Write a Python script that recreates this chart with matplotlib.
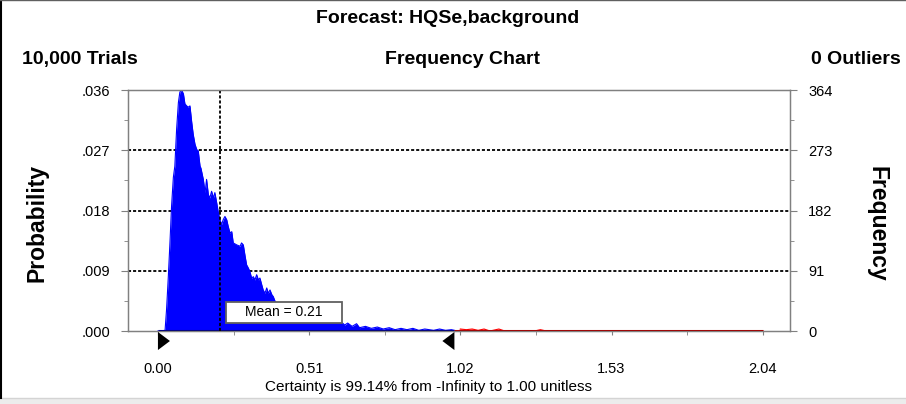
# Crystal Ball style forecast frequency chart

import matplotlib
matplotlib.use("Agg")
import numpy as np
import matplotlib.pyplot as plt
import matplotlib.transforms as mtransforms
from matplotlib.patches import Polygon, Rectangle
from matplotlib.lines import Line2D

plt.rcParams['font.family'] = ['Liberation Sans', 'DejaVu Sans']

# forecast summary
trials = 10000
outliers = 0
mean_value = 0.21
cert_lo, cert_hi = 0.00, 1.00
certainty = 99.14

# axis ticks
x_ticks = [0.00, 0.51, 1.02, 1.53, 2.04]
p_ticks = [0.0, 0.0091, 0.0182, 0.0273, 0.0364]
p_labels = ['.000', '.009', '.018', '.027', '.036']
freq_ticks = [0, 91, 182, 273, 364]

# outline of the frequency area (value, probability)
edge_x = [0.000, 0.007, 0.024, 0.029, 0.035, 0.041, 0.046, 0.052, 0.057, 0.063,
          0.069, 0.074, 0.080, 0.086, 0.091, 0.097, 0.102, 0.108, 0.114, 0.119,
          0.125, 0.131, 0.136, 0.142, 0.145, 0.153, 0.159, 0.164, 0.170, 0.175,
          0.181, 0.187, 0.192, 0.198, 0.204, 0.209, 0.215, 0.220, 0.226, 0.232,
          0.237, 0.243, 0.249, 0.254, 0.266, 0.277, 0.282, 0.288, 0.294, 0.299,
          0.305, 0.310, 0.316, 0.322, 0.327, 0.333, 0.339, 0.344, 0.350, 0.355,
          0.361, 0.367, 0.372, 0.378, 0.384, 0.389, 0.395, 0.400, 0.430, 0.450,
          0.480, 0.500, 0.530, 0.560, 0.590, 0.620, 0.630, 0.640, 0.655, 0.670,
          0.680, 0.700, 0.720, 0.740, 0.760, 0.780, 0.800, 0.820, 0.840, 0.860,
          0.880, 0.900, 0.930, 0.950, 0.970, 0.990, 1.000, 1.020, 1.040, 1.060,
          1.080, 1.100, 1.120, 1.150, 1.170, 1.270, 1.290, 1.310, 2.040]
edge_p = [0.0000, 0.0000, 0.0001, 0.0032, 0.0082, 0.0138, 0.0189, 0.0232, 0.0249, 0.0305,
          0.0345, 0.0361, 0.0364, 0.0358, 0.0343, 0.0340, 0.0338, 0.0340, 0.0315, 0.0297,
          0.0282, 0.0274, 0.0272, 0.0249, 0.0246, 0.0229, 0.0209, 0.0229, 0.0206, 0.0201,
          0.0211, 0.0201, 0.0209, 0.0194, 0.0178, 0.0168, 0.0161, 0.0168, 0.0173, 0.0168,
          0.0158, 0.0148, 0.0150, 0.0133, 0.0130, 0.0128, 0.0133, 0.0130, 0.0113, 0.0100,
          0.0095, 0.0090, 0.0080, 0.0082, 0.0077, 0.0085, 0.0077, 0.0080, 0.0070, 0.0062,
          0.0057, 0.0065, 0.0057, 0.0062, 0.0055, 0.0052, 0.0045, 0.0042, 0.0036, 0.0031,
          0.0027, 0.0023, 0.0019, 0.0016, 0.0013, 0.0013, 0.0009, 0.0012, 0.0007, 0.0011,
          0.0005, 0.0007, 0.0004, 0.0006, 0.0003, 0.0005, 0.0002, 0.0004, 0.0002, 0.0004,
          0.0001, 0.0003, 0.0001, 0.0003, 0.0001, 0.0002, 0.0001, 0.0003, 0.0002, 0.0003,
          0.0001, 0.0003, 0.0000, 0.0003, 0.0000, 0.0000, 0.0002, 0.0000, 0.0000]

edge_x = np.array(edge_x)
edge_p = np.array(edge_p)

fig = plt.figure(figsize=(9.06, 4.04), dpi=100)
ax = fig.add_axes([0.14128, 0.18069, 0.73068, 0.59653])
ax.set_xlim(-0.101, 2.132)
ax.set_ylim(p_ticks[0], p_ticks[-1])

# dotted grid behind the area
for p in p_ticks[1:-1]:
    ax.axhline(p, color='black', lw=1.3, ls=(0, (1.7, 1.1)), zorder=1)

inside = edge_x <= cert_hi
ax.fill_between(edge_x, edge_p, where=inside, color='#0000ff', lw=0, zorder=2)
ax.fill_between(edge_x, edge_p, where=edge_x >= cert_hi, color='#ff0000', lw=0, zorder=2)
ax.plot(edge_x[inside], edge_p[inside], color='#0000ff', lw=0.8, zorder=2)
ax.plot(edge_x[~inside], edge_p[~inside], color='#ff0000', lw=0.8, zorder=2)
ax.plot([cert_lo, cert_hi], [0, 0], color='#000080', lw=2.2, zorder=3, solid_capstyle='butt')
ax.plot([cert_hi, x_ticks[-1]], [0, 0], color='#a00000', lw=2.2, zorder=3, solid_capstyle='butt')

# mean marker
ax.axvline(mean_value, color='black', lw=1.3, ls=(0, (1.7, 1.1)), zorder=4)
ax.add_patch(Rectangle((0.229, 0.00121), 0.391, 0.00319, facecolor='white',
                       edgecolor='#606060', lw=1.3, zorder=5))
ax.text(0.4245, 0.0028, 'Mean = {:.2f}'.format(mean_value), ha='center', va='center',
        fontsize=10, zorder=6)

# certainty range grabbers
trans = mtransforms.blended_transform_factory(ax.transData, ax.transAxes)
tri_w = 0.0405
for xv, d in [(cert_lo, 1), (cert_hi, -1)]:
    ax.add_patch(Polygon([(xv, -0.004), (xv, -0.079), (xv + d * tri_w, -0.0415)],
                         closed=True, facecolor='black', edgecolor='none',
                         transform=trans, clip_on=False, zorder=6))

for side in ['left', 'right', 'top', 'bottom']:
    ax.spines[side].set_color('#808080')
    ax.spines[side].set_linewidth(1.0)

ax.set_xticks(x_ticks)
ax.set_xticklabels(['{:.2f}'.format(v) for v in x_ticks])
ax.set_xticks([(a + b) / 2 for a, b in zip(x_ticks[:-1], x_ticks[1:])], minor=True)
ax.set_yticks(p_ticks)
ax.set_yticklabels(p_labels)
ax.set_yticks([(a + b) / 2 for a, b in zip(p_ticks[:-1], p_ticks[1:])], minor=True)
ax.tick_params(axis='x', which='both', length=3, color='#808080', pad=19, labelsize=10.5)
ax.tick_params(axis='y', which='major', length=5, color='#808080', pad=8, labelsize=10.5)
ax.tick_params(axis='y', which='minor', length=3, color='#808080')

ax2 = ax.twinx()
ax2.set_ylim(p_ticks[0] * trials, p_ticks[-1] * trials)
ax2.set_yticks(freq_ticks)
ax2.set_yticks([(a + b) / 2 for a, b in zip(freq_ticks[:-1], freq_ticks[1:])], minor=True)
ax2.tick_params(axis='y', which='major', length=5, color='#808080', pad=8, labelsize=10.5)
ax2.tick_params(axis='y', which='minor', length=3, color='#808080')
for side in ['left', 'right', 'top', 'bottom']:
    ax2.spines[side].set_color('#808080')

# headings and axis titles
fig.text(0.4945, 0.9554, 'Forecast: HQSe,background', ha='center', va='center',
         fontsize=14, fontweight='bold')
fig.text(0.0243, 0.8515, '{:,} Trials'.format(trials), ha='left', va='center',
         fontsize=14, fontweight='bold')
fig.text(0.511, 0.8515, 'Frequency Chart', ha='center', va='center',
         fontsize=14, fontweight='bold')
fig.text(0.9945, 0.8515, '{} Outliers'.format(outliers), ha='right', va='center',
         fontsize=14, fontweight='bold')
fig.text(0.0405, 0.448, 'Probability', rotation=90, ha='center', va='center',
         fontsize=16.5, fontweight='bold')
fig.text(0.968, 0.4455, 'Frequency', rotation=270, ha='center', va='center',
         fontsize=16.5, fontweight='bold')
fig.text(0.473, 0.042, 'Certainty is {:.2f}% from -Infinity to {:.2f} unitless'.format(certainty, cert_hi),
         ha='center', va='center', fontsize=11)

# window frame
fig.add_artist(Rectangle((0, 0), 1, 6 / 404, transform=fig.transFigure,
                         facecolor='#ececec', edgecolor='none'))
fig.add_artist(Line2D([0, 1], [6 / 404, 6 / 404], transform=fig.transFigure,
                      color='#d4d4d4', lw=1))
fig.add_artist(Line2D([0.001, 0.001], [6 / 404, 1], transform=fig.transFigure,
                      color='black', lw=1.5))
fig.add_artist(Line2D([0, 1], [0.999, 0.999], transform=fig.transFigure,
                      color='#606060', lw=1))

fig.savefig('out.png', dpi=100)
